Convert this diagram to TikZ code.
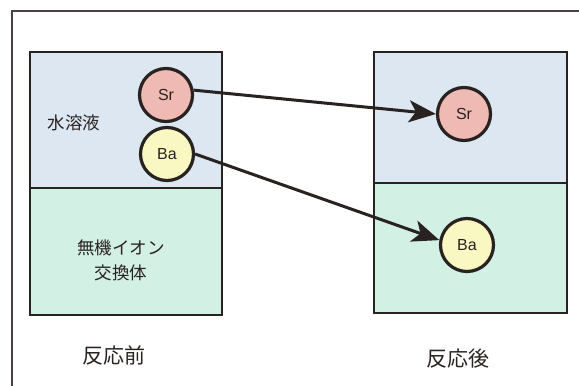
\documentclass[tikz,border=0pt]{standalone}
\usepackage{fontspec}
\setmainfont{Liberation Sans}
\newfontfamily\jpfont{Noto Sans CJK JP}
\usetikzlibrary{arrows.meta}
\definecolor{water}{RGB}{220,231,242}
\definecolor{resin}{RGB}{210,240,228}
\definecolor{srfill}{RGB}{240,186,180}
\definecolor{bafill}{RGB}{250,248,194}
\definecolor{ink}{RGB}{40,34,32}
\tikzset{
  region/.style={draw=ink, line width=2.8pt},
  ion/.style={circle, draw=ink, line width=3.2pt, minimum size=53pt, inner sep=0pt, font=\fontsize{16}{16}\selectfont, text=ink},
  jp/.style={font=\jpfont\fontsize{17.5}{25}\selectfont, text=ink, align=center},
  caption/.style={font=\jpfont\fontsize{21}{24}\selectfont, text=ink},
  move/.style={draw=ink, line width=3pt, -{Stealth[length=27pt, width=22pt, inset=7pt]}}
}
\begin{document}
\begin{tikzpicture}[x=1pt, y=-1pt]
\useasboundingbox (0,0) rectangle (579,386);
% page frame
\draw[line width=1.3pt, ink!85] (12,386) -- (12,11) -- (579,11);
% before
\fill[water] (30,52) rectangle (222,188);
\fill[resin] (30,188) rectangle (222,315);
\draw[region] (30,52) rectangle (222,315);
\draw[region] (30,188) -- (222,188);
% after
\fill[water] (374,52) rectangle (567,183);
\fill[resin] (374,183) rectangle (567,313);
\draw[region] (374,52) rectangle (567,313);
\draw[region] (374,183) -- (567,183);
% labels
\node[jp] (aq) at (74,123) {水溶液};
\node[jp] (ex) at (121,260) {無機イオン\\交換体};
\node[caption] (bef) at (114,355) {反応前};
\node[caption] (aft) at (458,359) {反応後};
% ions
\node[ion, fill=srfill] (sr1) at (166,95) {Sr};
\node[ion, fill=bafill] (ba1) at (167,154) {Ba};
\node[ion, fill=srfill] (sr2) at (464,114) {Sr};
\node[ion, fill=bafill] (ba2) at (467,245) {Ba};
% arrows
\draw[move] (sr1.10) -- (sr2.west);
\draw[move] (ba1.east) -- (ba2.170);
\end{tikzpicture}
\end{document}
